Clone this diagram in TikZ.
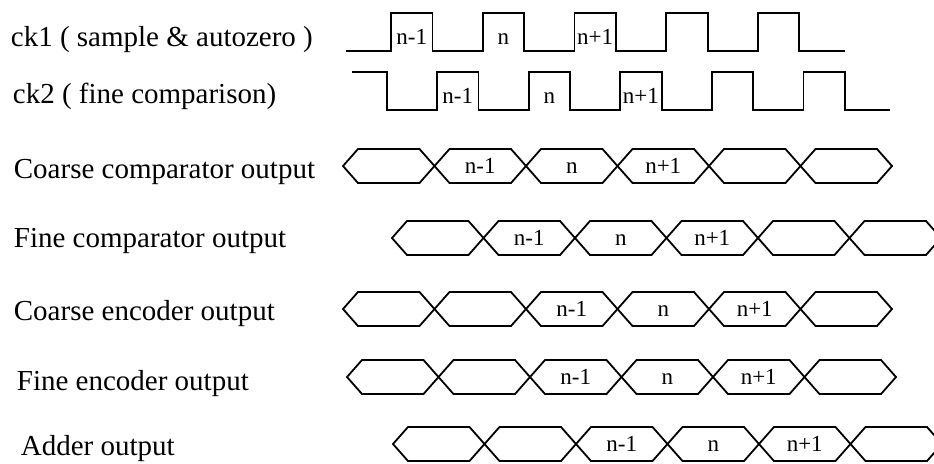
\documentclass[tikz,border=0pt]{standalone}
\usepackage{fontspec}
\setmainfont{Liberation Serif}
\begin{document}
\begin{tikzpicture}
  [x=0.5pt,y=-0.5pt,line width=0.9pt,
   every node/.style={inner sep=0pt},
   signame/.style={anchor=base west,font=\fontsize{14.5}{17}\selectfont},
   slot/.style={anchor=base,font=\fontsize{11.5}{13}\selectfont}]
  \useasboundingbox (0,0) rectangle (934,463);
  \clip (0,0) rectangle (934,463);

  \node[signame] (ck1) at (10,46) {ck1 ( sample \& autozero )};
  \node[signame] (ck2) at (12,103) {ck2 ( fine comparison)};
  \node[signame] (ccomp) at (13,178) {Coarse comparator output};
  \node[signame] (fcomp) at (13,247) {Fine comparator output};
  \node[signame] (cenc) at (13,320) {Coarse encoder output};
  \node[signame] (fenc) at (16,390) {Fine encoder output};
  \node[signame] (adder) at (20,455) {Adder output};

  % clocks
  \draw (346,51) \foreach \i in {0,...,4} { -- ({391+91.7*\i},51) |- ({432.5+91.7*\i},13) -- ({432.5+91.7*\i},51) } -- (845,51);
  \draw (352,72) -| (387,110) \foreach \i in {0,...,4} { -- ({437+91.6*\i},110) |- ({478.5+91.6*\i},72) -- ({478.5+91.6*\i},110) } -- (890,110);
  \foreach \lab [count=\j from 0] in {n-1,n,n+1}{
    \node[slot] (pa\j) at ({411.75+91.7*\j},44) {\lab};
    \node[slot] (pb\j) at ({457.75+91.6*\j},103) {\lab};
  }

  % data buses
  \foreach \xs/\ym/\k/\r in {343/166/1/cc, 392/238/1/fc, 343/309/2/ce, 347/377/2/fe, 393/444/2/ad}{
    \foreach \i in {0,...,5}
      \draw ({\xs+91.5*\i},\ym) -- ++(15,-17) -- ({\xs+91.5*(\i+1)-15},{\ym-17}) -- ++(15,17) -- ++(-15,17) -- ({\xs+91.5*\i+15},{\ym+17}) -- cycle;
    \foreach \lab [count=\j from 0] in {n-1,n,n+1}
      \node[slot] (\r\j) at ({\xs+91.5*(\k+\j+0.5)},{\ym+7}) {\lab};
  }
\end{tikzpicture}
\end{document}
